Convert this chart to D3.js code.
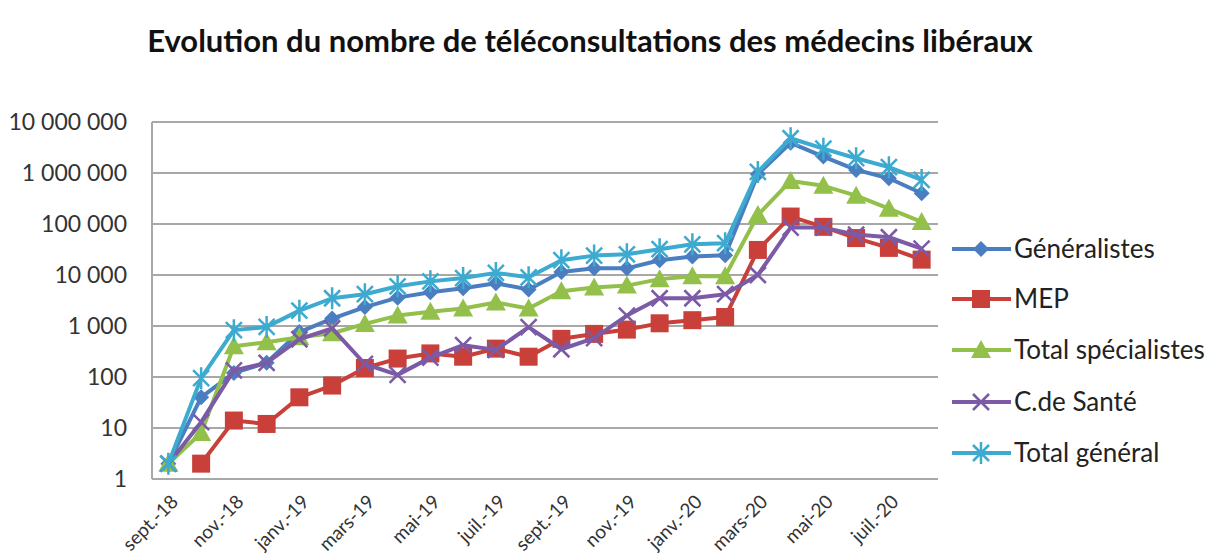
<!DOCTYPE html>
<html><head><meta charset="utf-8">
<script src="https://cdn.jsdelivr.net/npm/d3@7"></script>
<style>body{margin:0;background:#fff;} svg{display:block;font-family:Lato,"Open Sans",sans-serif;}</style>
</head><body>
<svg id="c" width="1223" height="560"></svg>
<script>
const title = "Evolution du nombre de téléconsultations des médecins libéraux";
const months = ["sept.-18","oct.-18","nov.-18","déc.-18","janv.-19","févr.-19","mars-19","avr.-19","mai-19","juin-19","juil.-19","août-19","sept.-19","oct.-19","nov.-19","déc.-19","janv.-20","févr.-20","mars-20","avr.-20","mai-20","juin-20","juil.-20","août-20"];
const tickLabels = ["sept.-18","nov.-18","janv.-19","mars-19","mai-19","juil.-19","sept.-19","nov.-19","janv.-20","mars-20","mai-20","juil.-20"];
const yTicks = [1,10,100,1000,10000,100000,1000000,10000000];
const seriesNames = ["Généralistes","MEP","Total spécialistes","C.de Santé","Total général"];
const generalistes = [2,40,120,190,760,1400,2350,3600,4600,5500,6900,5200,11500,13500,13500,19500,23000,24500,950000,3900000,2100000,1150000,790000,400000];
const mep = [null,2,14,12,40,68,150,230,290,250,360,250,560,700,850,1130,1300,1500,31000,140000,88000,53000,34000,20000];
const specialistes = [2,8,400,480,600,720,1100,1600,1900,2200,2900,2200,4800,5700,6200,8300,9500,9500,150000,700000,560000,360000,200000,110000];
const sante = [2,13,135,190,550,900,180,110,240,420,340,950,350,580,1600,3500,3500,4200,10000,85000,85000,62000,55000,33000];
const totalGeneral = [2,95,830,960,2000,3500,4200,6000,7500,8700,11000,9000,19500,24000,25500,32000,40000,42000,1050000,4800000,3000000,1950000,1300000,730000];
const colors = ["#4A7EC0","#C9403A","#92C04A","#7B5AA6","#3DAAD0"];
const markers = ["diamond","square","triangle","x","star"];
const data = [generalistes, mep, specialistes, sante, totalGeneral];

const svg = d3.select("#c");
const x = d3.scaleBand().domain(months).range([152,938]);
const cx = m => x(m) + x.bandwidth()/2;
const y = d3.scaleLog().domain([1,1e7]).range([479,122]);
const loc = d3.formatLocale({decimal:",",thousands:" ",grouping:[3],currency:["","€"]});
const fmt = loc.format(",");

svg.append("text").attr("x",590).attr("y",52).attr("text-anchor","middle")
  .attr("font-size",31).attr("font-weight","bold").attr("fill","#111").text(title);

// grid
const g = svg.append("g");
g.selectAll("line.grid").data(yTicks).join("line")
  .attr("x1",152).attr("x2",938).attr("y1",d=>y(d)).attr("y2",d=>y(d))
  .attr("stroke","#a8a8a8").attr("stroke-width",2);
g.append("line").attr("x1",152).attr("x2",152).attr("y1",y(1e7)).attr("y2",y(1))
  .attr("stroke","#a8a8a8").attr("stroke-width",2);

// y labels
const yAxis = d3.axisLeft(y).tickValues(yTicks).tickFormat(fmt).tickSize(0).tickPadding(25);
const ya = svg.append("g").attr("transform","translate(152,0)").call(yAxis);
ya.select(".domain").remove();
ya.selectAll("text").attr("font-size",23).attr("fill","#333").attr("font-family","Lato");

// x labels
const xAxis = d3.axisBottom(x).tickValues(tickLabels).tickSize(0);
const xa = svg.append("g").attr("transform","translate(0,479)").call(xAxis);
xa.select(".domain").remove();
xa.selectAll("text").attr("font-size",19).attr("fill","#333").attr("font-family","Lato")
  .attr("text-anchor","end").attr("dy",0).attr("y",0)
  .attr("transform","translate(11,24) rotate(-45)");

function drawMarker(sel, type, color){
  if(type==="diamond"){
    sel.append("path").attr("d","M0,-8L8,0L0,8L-8,0Z").attr("fill",color);
  } else if(type==="square"){
    sel.append("rect").attr("x",-9).attr("y",-9).attr("width",18).attr("height",18).attr("fill",color);
  } else if(type==="triangle"){
    sel.append("path").attr("d","M0,-10L10,8L-10,8Z").attr("fill",color);
  } else if(type==="x"){
    sel.append("path").attr("d","M-8,-8L8,8M-8,8L8,-8").attr("stroke",color).attr("stroke-width",2.5).attr("fill","none");
  } else if(type==="star"){
    sel.append("path").attr("d","M-8,-8L8,8M-8,8L8,-8M0,-11L0,11").attr("stroke",color).attr("stroke-width",2.5).attr("fill","none");
  }
}

const line = d3.line().defined(d=>d.v!=null).x(d=>cx(d.m)).y(d=>y(d.v));
data.forEach((vals,i)=>{
  const pts = months.map((m,j)=>({m, v: vals[j]}));
  const sg = svg.append("g");
  sg.append("path").datum(pts).attr("d",line).attr("fill","none")
    .attr("stroke",colors[i]).attr("stroke-width",4).attr("stroke-linejoin","round");
  pts.filter(d=>d.v!=null).forEach(d=>{
    const mg = sg.append("g").attr("transform",`translate(${cx(d.m)},${y(d.v)})`);
    drawMarker(mg, markers[i], colors[i]);
  });
});

// legend
const ly = [249,299,350,402,453];
seriesNames.forEach((n,i)=>{
  const lg = svg.append("g").attr("transform",`translate(0,${ly[i]})`);
  lg.append("line").attr("x1",952).attr("x2",1011).attr("y1",0).attr("y2",0)
    .attr("stroke",colors[i]).attr("stroke-width",4);
  const mg = lg.append("g").attr("transform","translate(981,0)");
  drawMarker(mg, markers[i], colors[i]);
  lg.append("text").attr("x",1014).attr("y",0).attr("dy","0.35em")
    .attr("font-size",26).attr("fill","#222").text(n);
});
</script>
</body></html>
